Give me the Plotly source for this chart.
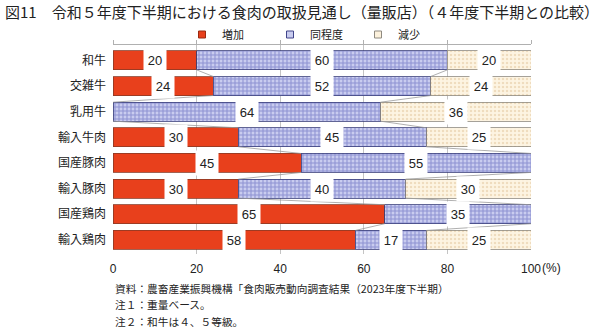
import plotly.graph_objects as go

# ---- data ----
categories = ["和牛", "交雑牛", "乳用牛", "輸入牛肉", "国産豚肉", "輸入豚肉", "国産鶏肉", "輸入鶏肉"]
increase = [20, 24, 0, 30, 45, 30, 65, 58]
same = [60, 52, 64, 45, 55, 40, 35, 17]
decrease = [20, 24, 36, 25, 0, 30, 0, 25]
series_names = ["増加", "同程度", "減少"]
x_ticks = [0, 20, 40, 60, 80, 100]
x_ticklabels = ["0", "20", "40", "60", "80", "100"]

title_text = "図11　令和５年度下半期における食肉の取扱見通し（量販店）（４年度下半期との比較）"
notes = [
    "資料：農畜産業振興機構「食肉販売動向調査結果（2023年度下半期）",
    "注１：重量ベース。",
    "注２：和牛は４、５等級。",
]

FONT = "Liberation Sans, Arial, Noto Sans CJK JP, sans-serif"
JFONT = "Noto Sans CJK JP, sans-serif"

pos = list(range(len(categories)))
bargap = 0.26
hw = (1 - bargap) / 2

series = [increase, same, decrease]
colors = ["#E8401C", "#C9CCEF", "#FCF1DC"]
patterns = [
    dict(shape=""),
    dict(shape="+", fgcolor="#5058B4", bgcolor="#C9CCEF", size=4, solidity=0.45),
    dict(shape=".", fgcolor="#E0C49A", bgcolor="#FDF4E2", size=4, solidity=0.3),
]
linecolors = ["#8a3a25", "#3a3f7a", "#8f8a80"]
swatch_lines = ["#9a2a10", "#40458a", "#8f8a80"]

fig = go.Figure()
for name, vals, col, pat, lc in zip(series_names, series, colors, patterns, linecolors):
    fig.add_trace(go.Bar(
        name=name, x=vals, y=pos, orientation="h", showlegend=False,
        marker=dict(color=col, pattern=pat, line=dict(color=lc, width=0.8)),
        hoverinfo="skip",
    ))
# legend entries with small square swatches
for name, col, lc in zip(series_names, colors, swatch_lines):
    fig.add_trace(go.Scatter(
        name=name, x=[None], y=[None], mode="markers",
        marker=dict(symbol="square", size=7, color=col, line=dict(color=lc, width=1)),
    ))

# series lines connecting cumulative boundaries
cum1 = increase
cum2 = [a + b for a, b in zip(increase, same)]
lx, ly = [], []
for cum in (cum1, cum2):
    for i in range(len(categories) - 1):
        lx += [cum[i], cum[i + 1], None]
        ly += [pos[i] + hw, pos[i + 1] - hw, None]
fig.add_trace(go.Scatter(x=lx, y=ly, mode="lines", xaxis="x2",
                         line=dict(color="#9a9a9a", width=0.8),
                         showlegend=False, hoverinfo="skip"))

# value labels with white boxes
for vals, starts in ((increase, [0] * len(pos)), (same, cum1), (decrease, cum2)):
    for i, (v, s) in enumerate(zip(vals, starts)):
        if v == 0:
            continue
        fig.add_annotation(x=s + v / 2, y=pos[i], xref="x", yref="y", text=str(v),
                           showarrow=False, bgcolor="white", width=20, height=22,
                           font=dict(family=FONT, size=13, color="#222"))

L, R, T, B = 113, 69, 45, 74
pw, ph = 600 - L - R, 328 - T - B


def px_x(x):
    return (x - L) / pw


def px_y(y):
    return (328 - B - y) / ph


# title and notes
fig.add_annotation(x=px_x(3), y=px_y(12), xref="paper", yref="paper", xanchor="left",
                   yanchor="middle", text=title_text, showarrow=False,
                   font=dict(family=JFONT, size=15, color="#222"))
for k, note in enumerate(notes):
    fig.add_annotation(x=0, y=px_y(288 + k * 16.5), xref="paper", yref="paper",
                       xanchor="left", yanchor="middle", text=note, showarrow=False,
                       font=dict(family=JFONT, size=10.7, color="#222"))
fig.add_annotation(x=100, y=px_y(268), xref="x", yref="paper", xanchor="left",
                   yanchor="middle", xshift=9, text="(%)", showarrow=False,
                   font=dict(family=FONT, size=12, color="#222"))

fig.update_layout(
    width=600, height=328,
    margin=dict(l=L, r=R, t=T, b=B),
    paper_bgcolor="white", plot_bgcolor="white",
    barmode="stack", bargap=bargap,
    font=dict(family=FONT, size=12, color="#222"),
    showlegend=True,
    legend=dict(orientation="h", x=px_x(182), y=px_y(20),
                xanchor="left", yanchor="top", entrywidth=43, entrywidthmode="pixels",
                font=dict(family=JFONT, size=11, color="#222"), itemwidth=30,
                traceorder="normal", bgcolor="rgba(0,0,0,0)"),
    xaxis=dict(range=[0, 100], tickvals=x_ticks, ticktext=x_ticklabels, showgrid=True,
               gridcolor="#c4c4c4", gridwidth=1, zeroline=False, showline=False,
               ticks="", tickfont=dict(size=12), ticklabelstandoff=6, fixedrange=True),
    xaxis2=dict(range=[0, 100], overlaying="x", side="top", anchor="y", matches="x",
                tickvals=x_ticks, showticklabels=False, showgrid=False, zeroline=False,
                showline=True, linecolor="#b0b0b0", linewidth=1, ticks="outside",
                ticklen=4, tickcolor="#b0b0b0"),
    yaxis=dict(range=[7.55, -0.6], tickvals=pos, ticktext=categories, showgrid=False,
               zeroline=False, showline=False, ticks="", ticklabelstandoff=6,
               tickfont=dict(family=JFONT, size=12, color="#222")),
)

fig.write_html("out.html")
